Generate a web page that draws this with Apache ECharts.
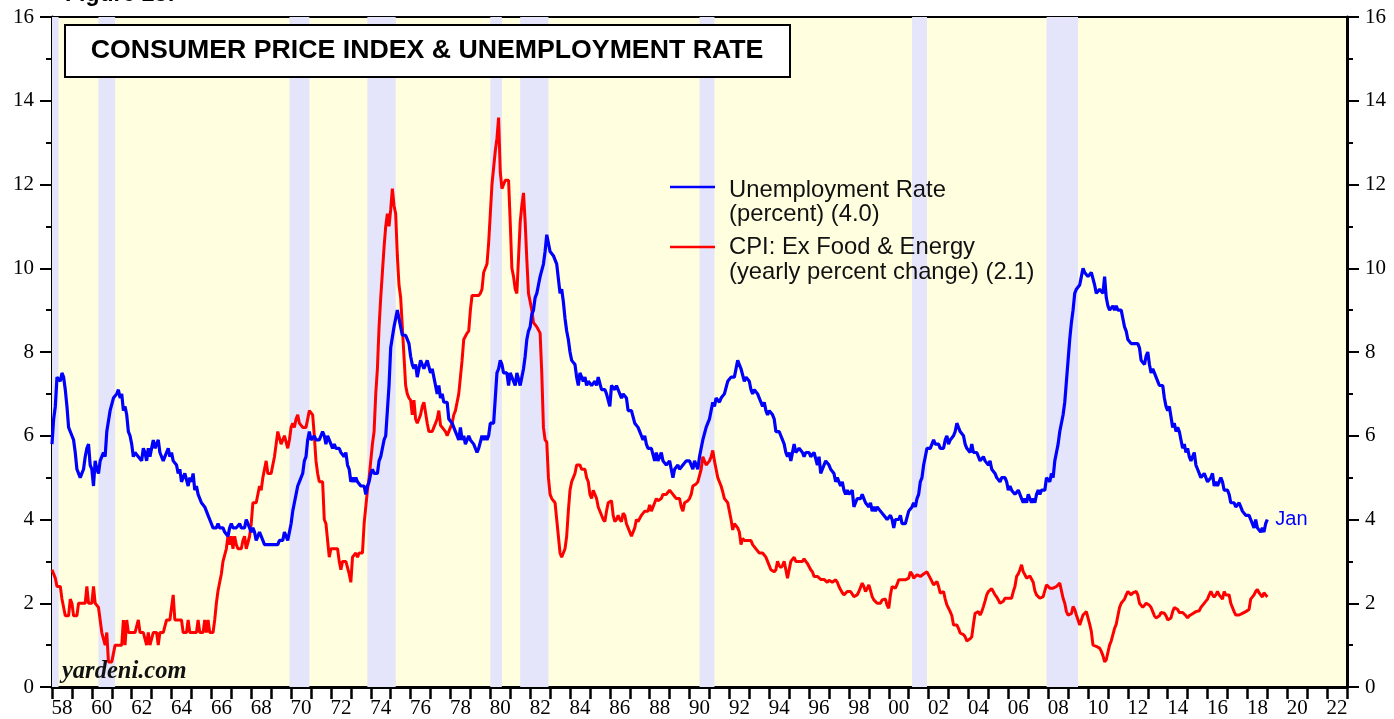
<!DOCTYPE html>
<html>
<head>
<meta charset="utf-8">
<script src="https://cdn.jsdelivr.net/npm/echarts@6/dist/echarts.min.js"></script>
<style>
html,body{margin:0;padding:0;background:#fff;}
#c{width:1394px;height:719px;}
</style>
</head>
<body>
<div id="c"></div>
<script>
// ---- DATA (monthly, starting Jan 1958) ----
const startYear = 1958;
const unempRows = [
[5.8,6.4,6.7,7.4,7.4,7.3,7.5,7.4,7.1,6.7,6.2,6.2],
[6.0,5.9,5.6,5.2,5.1,5.0,5.1,5.2,5.5,5.7,5.8,5.3],
[5.2,4.8,5.4,5.2,5.1,5.4,5.5,5.6,5.5,6.1,6.1,6.6],
[6.6,6.9,6.9,7.0,7.1,6.9,7.0,6.6,6.7,6.5,6.1,6.0],
[5.8,5.5,5.6,5.6,5.5,5.5,5.4,5.7,5.6,5.4,5.7,5.5],
[5.7,5.9,5.7,5.7,5.9,5.6,5.6,5.4,5.5,5.5,5.7,5.5],
[5.6,5.4,5.4,5.3,5.1,5.2,4.9,5.0,5.1,5.1,4.8,5.0],
[4.9,5.1,4.7,4.8,4.6,4.6,4.4,4.4,4.3,4.2,4.1,4.0],
[4.0,3.8,3.8,3.8,3.9,3.8,3.8,3.8,3.7,3.7,3.6,3.8],
[3.9,3.8,3.8,3.8,3.8,3.9,3.8,3.8,3.8,4.0,3.9,3.8],
[3.7,3.8,3.7,3.5,3.5,3.7,3.7,3.5,3.4,3.4,3.4,3.4],
[3.4,3.4,3.4,3.4,3.4,3.5,3.5,3.5,3.7,3.7,3.5,3.5],
[3.9,4.2,4.4,4.6,4.8,4.9,5.0,5.1,5.4,5.5,5.9,6.1],
[5.9,5.9,6.0,5.9,5.9,5.9,6.0,6.1,6.0,5.8,6.0,6.0],
[5.8,5.7,5.8,5.7,5.7,5.7,5.6,5.6,5.5,5.6,5.3,5.2],
[4.9,5.0,4.9,5.0,4.9,4.9,4.8,4.8,4.8,4.6,4.8,4.9],
[5.1,5.2,5.1,5.1,5.1,5.4,5.5,5.5,5.9,6.0,6.6,7.2],
[8.1,8.1,8.6,8.8,9.0,8.8,8.6,8.4,8.4,8.4,8.3,8.2],
[7.9,7.7,7.6,7.7,7.4,7.6,7.8,7.8,7.6,7.7,7.8,7.8],
[7.5,7.6,7.4,7.2,7.0,7.2,6.9,7.0,6.8,6.8,6.8,6.4],
[6.4,6.3,6.3,6.1,6.0,5.9,6.2,5.9,6.0,5.8,5.9,6.0],
[5.9,5.9,5.8,5.8,5.6,5.7,5.7,6.0,5.9,6.0,5.9,6.0],
[6.3,6.3,6.3,6.9,7.5,7.6,7.8,7.7,7.5,7.5,7.5,7.2],
[7.5,7.4,7.4,7.2,7.5,7.5,7.2,7.4,7.6,7.9,8.3,8.5],
[8.6,8.9,9.0,9.3,9.4,9.6,9.8,9.8,10.1,10.4,10.8,10.8],
[10.4,10.4,10.3,10.2,10.1,10.1,9.4,9.5,9.2,8.8,8.5,8.3],
[8.0,7.8,7.8,7.7,7.4,7.2,7.5,7.5,7.3,7.4,7.2,7.3],
[7.3,7.2,7.2,7.3,7.2,7.4,7.4,7.1,7.1,7.1,7.0,7.0],
[6.7,7.2,7.2,7.1,7.2,7.2,7.0,6.9,7.0,7.0,6.9,6.6],
[6.6,6.6,6.6,6.3,6.3,6.2,6.1,6.0,5.9,6.0,5.8,5.7],
[5.7,5.7,5.7,5.4,5.6,5.4,5.4,5.6,5.4,5.4,5.3,5.3],
[5.4,5.2,5.0,5.2,5.2,5.3,5.2,5.2,5.3,5.3,5.4,5.4],
[5.4,5.3,5.2,5.4,5.4,5.2,5.5,5.7,5.9,5.9,6.2,6.3],
[6.4,6.6,6.8,6.7,6.9,6.9,6.8,6.9,6.9,7.0,7.0,7.3],
[7.3,7.4,7.4,7.4,7.6,7.8,7.7,7.6,7.6,7.3,7.4,7.4],
[7.3,7.1,7.0,7.1,7.1,7.0,6.9,6.8,6.7,6.8,6.6,6.5],
[6.6,6.6,6.5,6.4,6.1,6.1,6.1,6.0,5.9,5.8,5.6,5.5],
[5.6,5.4,5.4,5.8,5.6,5.6,5.7,5.7,5.6,5.5,5.6,5.6],
[5.6,5.5,5.5,5.6,5.6,5.3,5.5,5.1,5.2,5.2,5.4,5.4],
[5.3,5.2,5.2,5.1,4.9,5.0,4.9,4.8,4.9,4.7,4.6,4.7],
[4.6,4.6,4.7,4.3,4.4,4.5,4.5,4.5,4.6,4.5,4.4,4.4],
[4.3,4.4,4.2,4.3,4.2,4.3,4.3,4.2,4.2,4.1,4.1,4.0],
[4.0,4.1,4.0,3.8,4.0,4.0,4.0,4.1,3.9,3.9,3.9,3.9],
[4.2,4.2,4.3,4.4,4.3,4.5,4.6,4.9,5.0,5.3,5.5,5.7],
[5.7,5.7,5.7,5.9,5.8,5.8,5.8,5.7,5.7,5.7,5.9,6.0],
[5.8,5.9,5.9,6.0,6.1,6.3,6.2,6.1,6.1,6.0,5.8,5.7],
[5.7,5.6,5.8,5.6,5.6,5.6,5.5,5.4,5.4,5.5,5.4,5.4],
[5.3,5.4,5.2,5.2,5.1,5.0,5.0,4.9,5.0,5.0,5.0,4.9],
[4.7,4.8,4.7,4.7,4.6,4.6,4.7,4.7,4.5,4.4,4.5,4.4],
[4.6,4.5,4.4,4.5,4.4,4.6,4.7,4.6,4.7,4.7,4.7,5.0],
[5.0,4.9,5.1,5.0,5.4,5.6,5.8,6.1,6.1,6.5,6.8,7.3],
[7.8,8.3,8.7,9.0,9.4,9.5,9.5,9.6,9.8,10.0,9.9,9.9],
[9.8,9.8,9.9,9.9,9.6,9.4,9.4,9.5,9.5,9.4,9.8,9.3],
[9.1,9.0,9.0,9.1,9.0,9.1,9.0,9.0,9.0,8.8,8.6,8.5],
[8.3,8.3,8.2,8.2,8.2,8.2,8.2,8.1,7.8,7.8,7.7,7.9],
[8.0,7.7,7.5,7.6,7.5,7.5,7.3,7.2,7.2,7.2,6.9,6.7],
[6.6,6.7,6.7,6.2,6.3,6.1,6.2,6.1,5.9,5.7,5.8,5.6],
[5.7,5.5,5.4,5.4,5.6,5.3,5.2,5.1,5.0,5.0,5.1,5.0],
[4.9,4.9,5.0,5.1,4.8,4.9,4.8,4.9,5.0,4.9,4.7,4.7],
[4.7,4.6,4.4,4.4,4.4,4.3,4.3,4.4,4.3,4.2,4.2,4.1],
[4.1,4.1,4.0,4.0,3.8,4.0,3.8,3.8,3.7,3.8,3.7,3.9],
[4.0]
];
const cpiRows = [
[2.8,2.8,2.6,2.4,2.4,2.4,2.1,2.1,1.7,1.7,1.7,2.1],
[2.0,1.7,1.7,1.7,2.0,2.0,2.0,2.0,2.0,2.4,2.0,2.0],
[2.0,2.4,2.0,2.0,1.9,1.6,1.3,1.3,1.0,1.3,0.6,0.6],
[0.6,0.6,1.0,1.0,1.0,1.0,1.0,1.6,1.0,1.6,1.3,1.3],
[1.3,1.3,1.3,1.3,1.6,1.3,1.3,1.3,1.3,1.0,1.3,1.0],
[1.0,1.3,1.3,1.3,1.0,1.3,1.3,1.3,1.3,1.6,1.6,1.6],
[1.6,2.2,1.6,1.6,1.6,1.6,1.6,1.3,1.3,1.3,1.6,1.3],
[1.3,1.3,1.3,1.3,1.6,1.3,1.3,1.3,1.6,1.3,1.6,1.3],
[1.3,1.3,1.6,2.0,2.3,2.3,2.7,3.0,3.0,3.3,3.6,3.4],
[3.6,3.3,3.6,3.4,3.3,3.3,3.3,3.5,3.6,3.3,3.3,3.6],
[3.9,4.4,4.4,4.4,4.4,4.8,4.7,5.0,5.0,5.4,5.1,5.1],
[5.1,5.3,5.5,5.8,6.1,6.1,5.8,5.8,6.0,6.0,5.7,5.9],
[6.2,6.3,6.2,6.4,6.5,6.3,6.3,6.2,6.2,6.2,6.4,6.6],
[6.6,6.5,6.0,5.4,5.1,4.9,4.9,4.9,4.0,3.9,3.5,3.1],
[3.3,3.3,3.3,3.3,3.3,3.0,2.8,3.0,3.0,3.0,3.0,2.7],
[2.5,3.1,3.1,3.2,3.1,3.2,3.2,3.2,3.9,4.3,4.7,5.0],
[5.4,5.8,6.1,7.0,7.6,8.6,9.3,9.9,10.5,11.0,11.3,11.0],
[11.4,11.9,11.5,11.3,10.3,9.6,9.3,8.6,7.9,7.2,7.0,6.9],
[6.85,6.5,6.85,6.4,6.3,6.4,6.5,6.7,6.8,6.8,6.3,6.1],
[6.1,6.1,6.2,6.3,6.4,6.6,6.25,6.2,6.2,6.1,6.0,6.0],
[6.2,6.3,6.5,6.6,6.8,7.0,7.4,7.8,8.3,8.3,8.45,8.5],
[9.0,9.35,9.35,9.35,9.35,9.35,9.4,9.5,9.9,10.0,10.1,10.6],
[11.3,12.0,12.4,12.8,13.1,13.6,12.3,11.9,12.0,12.1,12.1,12.1],
[11.1,10.0,9.8,9.5,9.4,9.4,11.1,11.5,11.8,11.1,10.2,9.4],
[9.2,9.0,8.7,8.7,8.6,8.6,8.45,7.5,6.2,5.9,5.85,5.0],
[4.6,4.5,4.5,4.4,4.0,3.6,3.2,3.1,3.1,3.3,3.6,4.2],
[4.7,4.9,5.0,5.1,5.3,5.3,5.3,5.2,5.2,5.2,5.0,4.9],
[4.6,4.5,4.7,4.6,4.5,4.3,4.26,4.1,4.0,3.95,4.2,4.4],
[4.4,4.45,4.1,3.95,4.0,4.1,4.0,3.95,4.15,4.1,3.9,3.8],
[3.7,3.6,3.6,3.8,4.0,3.95,3.95,4.1,4.1,4.2,4.2,4.2],
[4.35,4.2,4.2,4.4,4.5,4.45,4.45,4.5,4.6,4.6,4.6,4.65],
[4.7,4.7,4.6,4.55,4.5,4.5,4.5,4.3,4.2,4.4,4.4,4.45],
[4.5,4.6,4.8,4.8,4.85,4.9,5.05,5.2,5.5,5.5,5.3,5.3],
[5.4,5.5,5.65,5.4,5.2,5.0,4.97,4.8,4.66,4.5,4.45,4.4],
[4.4,4.0,3.75,3.9,3.85,3.8,3.7,3.4,3.55,3.5,3.5,3.5],
[3.5,3.5,3.4,3.4,3.3,3.3,3.2,3.2,3.2,3.2,3.1,3.0],
[3.0,2.8,2.8,2.75,2.8,3.0,2.9,2.85,2.9,3.0,2.8,2.6],
[2.6,3.0,3.0,3.1,3.0,3.0,3.0,3.0,3.0,3.06,3.0,2.95],
[2.95,2.8,2.75,2.64,2.64,2.64,2.6,2.57,2.57,2.57,2.55,2.5],
[2.55,2.55,2.5,2.5,2.56,2.5,2.4,2.32,2.25,2.2,2.2,2.28],
[2.28,2.28,2.28,2.16,2.16,2.2,2.28,2.28,2.48,2.4,2.28,2.35],
[2.44,2.3,2.16,2.08,2.08,2.0,1.96,2.0,2.08,2.1,2.1,1.95],
[1.88,2.2,2.4,2.4,2.36,2.45,2.56,2.56,2.56,2.56,2.56,2.58],
[2.6,2.75,2.7,2.6,2.6,2.68,2.66,2.64,2.64,2.7,2.7,2.75],
[2.78,2.6,2.56,2.44,2.48,2.52,2.4,2.24,2.24,2.28,2.1,1.96],
[1.96,1.8,1.7,1.48,1.48,1.48,1.4,1.29,1.29,1.25,1.2,1.1],
[1.09,1.15,1.2,1.5,1.76,1.8,1.8,1.72,1.8,1.92,2.05,2.2],
[2.28,2.3,2.35,2.35,2.2,2.15,2.08,2.0,1.96,2.05,2.12,2.12],
[2.12,2.12,2.12,2.28,2.4,2.64,2.7,2.8,2.92,2.75,2.68,2.6],
[2.6,2.65,2.68,2.5,2.3,2.2,2.2,2.12,2.12,2.16,2.3,2.44],
[2.44,2.36,2.32,2.36,2.36,2.4,2.4,2.48,2.48,2.12,2.0,1.8],
[1.72,1.72,1.75,1.92,1.85,1.72,1.6,1.48,1.48,1.72,1.75,1.8],
[1.8,1.5,1.33,1.0,0.98,0.97,0.95,0.93,0.85,0.75,0.6,0.65],
[0.65,1.0,1.1,1.25,1.4,1.5,1.7,1.9,2.0,2.0,2.1,2.2],
[2.28,2.28,2.2,2.25,2.28,2.28,2.2,2.0,2.0,1.9,1.95,2.0],
[2.0,1.95,1.9,1.8,1.7,1.65,1.65,1.7,1.78,1.75,1.76,1.7],
[1.6,1.6,1.65,1.8,1.9,1.9,1.85,1.78,1.78,1.78,1.75,1.7],
[1.65,1.7,1.72,1.75,1.78,1.8,1.8,1.82,1.9,1.95,1.97,2.05],
[2.1,2.2,2.28,2.2,2.15,2.2,2.28,2.2,2.2,2.1,2.28,2.2],
[2.2,2.2,2.0,1.9,1.8,1.72,1.72,1.72,1.72,1.76,1.76,1.8],
[1.8,1.85,2.1,2.1,2.2,2.28,2.33,2.25,2.2,2.15,2.25,2.2],
[2.15]
];
// recession periods (start, end) in fractional years
const recessions = [
[1957.67,1958.33],[1960.33,1961.17],[1969.92,1970.92],[1973.83,1975.25],
[1980.0,1980.58],[1981.5,1982.92],[1990.5,1991.25],[2001.17,2001.92],[2007.92,2009.5]
];
const xMin = 1958, xMax = 2023;
const yMin = 0, yMax = 16;
const titleText = 'CONSUMER PRICE INDEX & UNEMPLOYMENT RATE';
const legendNames = [
 ['Unemployment Rate', '(percent) (4.0)'],
 ['CPI: Ex Food & Energy', '(yearly percent change) (2.1)']
];
const lastLabel = 'Jan';

// ---- BUILD ----
const toSeries = rows => rows.flat().map((v, i) => [startYear + i / 12, v]);
const unempData = toSeries(unempRows);
const cpiData = toSeries(cpiRows);

const chart = echarts.init(document.getElementById('c'), null, {renderer: 'canvas'});
const serifFont = '"Liberation Serif","Times New Roman",serif';
const sansFont = '"Liberation Sans",Arial,sans-serif';

const yAxisCommon = {
  type: 'value', min: yMin, max: yMax, interval: 2,
  axisLine: {show: true, lineStyle: {color: '#000', width: 3}},
  axisTick: {show: true, length: 12, lineStyle: {color: '#000', width: 2}},
  minorTick: {show: true, splitNumber: 2, length: 6, lineStyle: {color: '#000', width: 2}},
  splitLine: {show: false},
  axisLabel: {color: '#000', fontFamily: serifFont, fontSize: 21, margin: 18}
};

const option = {
  animation: false,
  backgroundColor: '#ffffff',
  grid: {left: 52, right: 47, top: 17, bottom: 30, show: true,
         backgroundColor: '#FFFFE0', borderColor: '#000', borderWidth: 2},
  xAxis: {
    type: 'value', min: xMin, max: xMax, interval: 1,
    axisLine: {show: true, onZero: false, lineStyle: {color: '#000', width: 3}},
    axisTick: {show: true, length: 12, lineStyle: {color: '#000', width: 2.5}},
    splitLine: {show: false},
    axisLabel: {
      color: '#000', fontFamily: serifFont, fontSize: 21, margin: 11,
      padding: [0, 0, 0, 20],
      formatter: v => (v % 2 === 0 && v < xMax) ? String(v % 100).padStart(2, '0') : ''
    }
  },
  yAxis: [
    Object.assign({position: 'left'}, yAxisCommon),
    Object.assign({position: 'right'}, yAxisCommon)
  ],
  series: [
    {
      type: 'line', data: [], z: 1, silent: true,
      markArea: {
        silent: true,
        itemStyle: {color: '#E4E4FA', opacity: 1},
        data: recessions.map(r => [{xAxis: r[0]}, {xAxis: r[1]}])
      }
    },
    {
      name: 'CPI', type: 'line', data: cpiData, z: 3,
      showSymbol: false, symbol: 'none',
      lineStyle: {color: '#FF0000', width: 3}
    },
    {
      name: 'Unemployment', type: 'line', data: unempData, z: 4,
      showSymbol: false, symbol: 'none',
      lineStyle: {color: '#0000FF', width: 3.2},
      endLabel: {show: true, formatter: lastLabel, color: '#0000FF',
                 fontFamily: sansFont, fontSize: 20, distance: 8}
    }
  ],
  graphic: [
    {type: 'text', left: 65, top: -17, z: 10,
     style: {text: 'Figure 25:', font: 'bold 23px ' + sansFont, fill: '#000'}},
    {type: 'rect', shape: {x: 65, y: 25, width: 725, height: 52}, z: 10,
     style: {fill: '#fff', stroke: '#000', lineWidth: 2}},
    {type: 'text', x: 427, y: 51, z: 11,
     style: {text: titleText, font: 'bold 26.7px ' + sansFont, fill: '#000',
             textAlign: 'center', textVerticalAlign: 'middle'}},
    {type: 'line', shape: {x1: 670, y1: 187, x2: 715, y2: 187}, z: 10,
     style: {stroke: '#0000FF', lineWidth: 2.5}},
    {type: 'line', shape: {x1: 670, y1: 247, x2: 715, y2: 247}, z: 10,
     style: {stroke: '#FF0000', lineWidth: 2.5}},
    {type: 'text', x: 729, y: 190, z: 10,
     style: {text: legendNames[0][0], font: '23.8px ' + sansFont, fill: '#111', textVerticalAlign: 'middle'}},
    {type: 'text', x: 729, y: 214, z: 10,
     style: {text: legendNames[0][1], font: '23.8px ' + sansFont, fill: '#111', textVerticalAlign: 'middle'}},
    {type: 'text', x: 729, y: 247, z: 10,
     style: {text: legendNames[1][0], font: '23.8px ' + sansFont, fill: '#111', textVerticalAlign: 'middle'}},
    {type: 'text', x: 729, y: 272, z: 10,
     style: {text: legendNames[1][1], font: '23.8px ' + sansFont, fill: '#111', textVerticalAlign: 'middle'}},
    {type: 'text', x: 62, y: 684, z: 10,
     style: {text: 'yardeni.com', font: 'italic bold 24.5px ' + serifFont, fill: '#111', textVerticalAlign: 'bottom'}}
  ]
};
chart.setOption(option);
</script>
</body>
</html>
